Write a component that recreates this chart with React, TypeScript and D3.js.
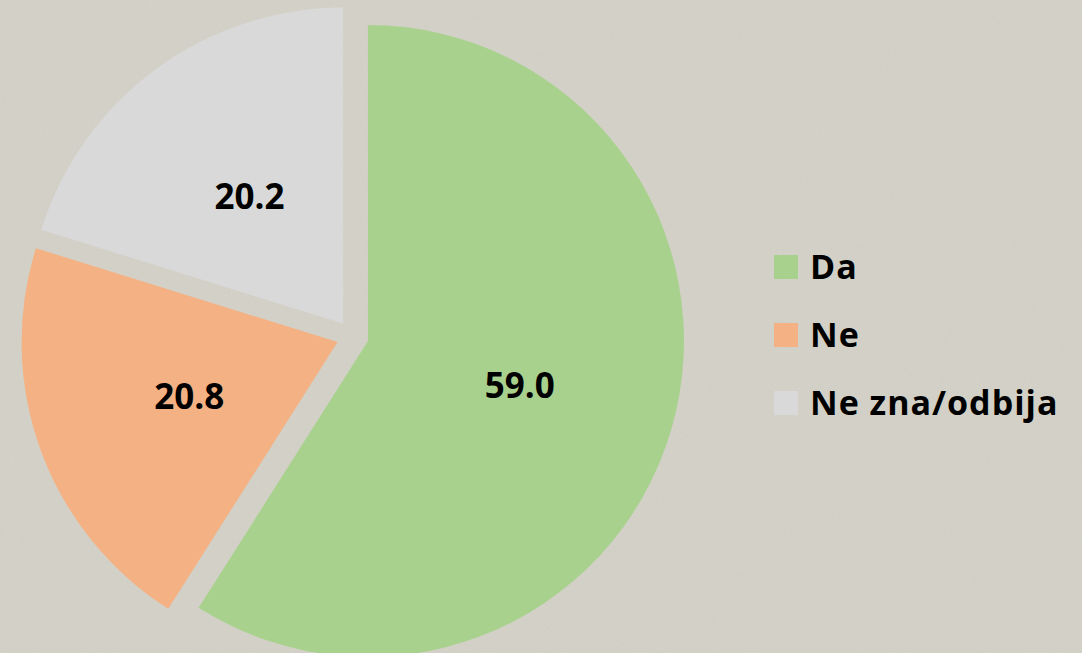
import React from "react";
import * as d3 from "d3";

const categories = ["Da", "Ne", "Ne zna/odbija"];
const values = [59.0, 20.8, 20.2];
const labels = ["59.0", "20.8", "20.2"];
const colors = ["#a9d18e", "#f4b183", "#d9d9d9"];

const W = 1082;
const H = 653;
const CX = 352.6;
const CY = 336.5;
const R = 316;
const EXPLODE = 16;

export default function App() {
  const pie = d3
    .pie<number>()
    .sort(null)
    .startAngle(0)
    .endAngle(2 * Math.PI)
    .value((d) => d);
  const arcs = pie(values);
  const arc = d3.arc<d3.PieArcDatum<number>>().innerRadius(0).outerRadius(R);
  const labelArc = d3
    .arc<d3.PieArcDatum<number>>()
    .innerRadius(R / 2)
    .outerRadius(R / 2);

  return (
    <svg
      width={W}
      height={H}
      style={{ position: "absolute", left: 0, top: 0 }}
      fontFamily="'Open Sans', Lato, sans-serif"
    >
      <defs>
        <filter id="tex" x="0" y="0" width="100%" height="100%">
          <feTurbulence type="fractalNoise" baseFrequency="0.9" numOctaves="2" seed="3" result="n" />
          <feColorMatrix
            in="n"
            type="matrix"
            values="0 0 0 0 0.55  0 0 0 0 0.54  0 0 0 0 0.5  0 0 0 -1.1 0.75"
            result="c"
          />
          <feComposite in="c" in2="SourceGraphic" operator="in" />
        </filter>
      </defs>
      <rect x={0} y={0} width={W} height={H} fill="#d4d2c8" />
      <rect x={0} y={0} width={W} height={H} fill="#d4d2c8" filter="url(#tex)" opacity={0.45} />
      {arcs.map((a, i) => {
        const mid = (a.startAngle + a.endAngle) / 2;
        const dx = Math.sin(mid) * EXPLODE;
        const dy = -Math.cos(mid) * EXPLODE;
        const [lx, ly] = labelArc.centroid(a);
        return (
          <g key={categories[i]} transform={`translate(${CX + dx},${CY + dy})`}>
            <path d={arc(a) || ""} fill={colors[i]} />
            <text
              x={lx}
              y={ly}
              dy="0.36em"
              textAnchor="middle"
              fontWeight="bold"
              fontSize={35}
              fill="#000"
            >
              {labels[i]}
            </text>
          </g>
        );
      })}
      <g transform="translate(774,255)">
        {categories.map((c, i) => (
          <g key={c} transform={`translate(0,${i * 68})`}>
            <rect x={0} y={0} width={24} height={24} fill={colors[i]} />
            <text
              x={36}
              y={12}
              dy="0.36em"
              fontWeight="bold"
              fontSize={34}
              letterSpacing={1}
              fill="#000"
            >
              {c}
            </text>
          </g>
        ))}
      </g>
    </svg>
  );
}
